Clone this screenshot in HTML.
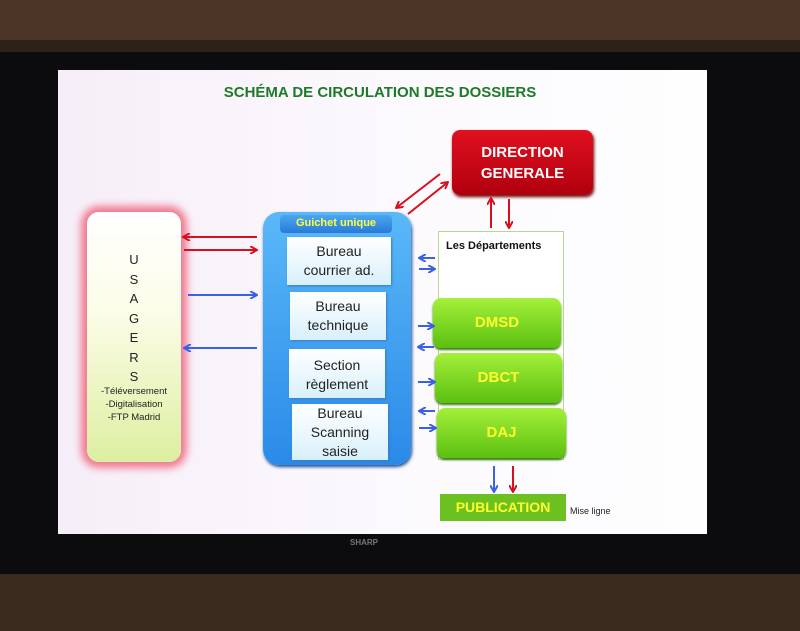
<!DOCTYPE html>
<html><head><meta charset="utf-8"><style>
body{margin:0;width:800px;height:631px;overflow:hidden;background:#2e2118;font-family:"Liberation Sans",sans-serif;position:relative}
div{position:absolute;box-sizing:border-box}
.wb{background:linear-gradient(#fff,#d8f0fb);text-align:center;color:#222;font-size:14px;line-height:19px;padding-top:5px;box-shadow:1px 1px 2px #3a7bc0}
.g{background:linear-gradient(#a4f03a,#5cc010);border-radius:8px;color:#ffff30;font-weight:bold;font-size:15px;text-align:center;box-shadow:0 2px 2px #3a7a10}
</style></head><body>
<div style="left:0;top:0;width:800px;height:40px;background:#4a3526"></div>
<div style="left:0;top:52px;width:800px;height:522px;background:#0c0c0e"></div>
<div style="left:0;top:574px;width:800px;height:57px;background:#3a2a1e"></div>
<div style="left:58px;top:70px;width:649px;height:464px;background:linear-gradient(90deg,#f6eef8,#fbf9fd 50%,#fefefe)"></div>
<div style="left:350px;top:538px;width:60px;font-size:8px;color:#777;font-weight:bold">SHARP</div>
<div style="left:200px;top:84px;width:360px;text-align:center;color:#1e7a28;font-weight:bold;font-size:15px">SCHÉMA DE CIRCULATION DES DOSSIERS</div>
<div style="left:452px;top:130px;width:141px;height:65px;background:linear-gradient(#e01020,#b0000e);border-radius:8px;color:#fff;font-weight:bold;font-size:15px;text-align:center;line-height:21px;padding-top:12px;box-shadow:1px 2px 3px #600">DIRECTION<br>GENERALE</div>
<div style="left:87px;top:212px;width:94px;height:250px;background:linear-gradient(#fff,#fcfce8 40%,#dcefa0);border-radius:12px;box-shadow:0 0 8px 6px #f07a90;text-align:center;color:#222;font-size:13px;line-height:19.5px;padding-top:38px">U<br>S<br>A<br>G<br>E<br>R<br>S<div style="position:static;font-size:9.5px;line-height:13px;margin-top:-2px">-Téléversement<br>-Digitalisation<br>-FTP Madrid</div></div>
<div style="left:263px;top:212px;width:148px;height:253px;background:linear-gradient(#5ab8f8,#2a8ae8);border-radius:16px;box-shadow:1px 2px 3px #1a4a90"></div>
<div style="left:280px;top:215px;width:112px;height:18px;background:linear-gradient(#4aa6f0,#2a7ad8);border-radius:4px;color:#ffff40;font-weight:bold;font-size:11px;text-align:center;line-height:17px">Guichet unique</div>
<div class="wb" style="left:287px;top:237px;width:104px;height:48px">Bureau<br>courrier ad.</div>
<div class="wb" style="left:290px;top:292px;width:96px;height:48px">Bureau<br>technique</div>
<div class="wb" style="left:289px;top:349px;width:96px;height:49px;padding-top:7px">Section<br>règlement</div>
<div class="wb" style="left:292px;top:404px;width:96px;height:56px;padding-top:0;line-height:19px">Bureau<br>Scanning<br>saisie</div>
<div style="left:438px;top:231px;width:126px;height:229px;border:1px solid #b8d890;background:#fff"></div>
<div style="left:446px;top:240px;font-size:11px;font-weight:bold;color:#111">Les Départements</div>
<div class="g" style="left:433px;top:298px;width:128px;height:50px;line-height:50px">DMSD</div>
<div class="g" style="left:435px;top:353px;width:127px;height:50px;line-height:50px">DBCT</div>
<div class="g" style="left:437px;top:408px;width:129px;height:50px;line-height:50px">DAJ</div>
<div style="left:440px;top:494px;width:126px;height:27px;background:#6cc020;color:#ffff30;font-weight:bold;font-size:14px;line-height:27px;text-align:center">PUBLICATION</div>
<div style="left:570px;top:506px;font-size:9px;color:#222">Mise ligne</div>
<svg width="800" height="631" style="position:absolute;left:0;top:0">
<defs>
<marker id="r" markerWidth="8" markerHeight="8" refX="7" refY="4" orient="auto" markerUnits="userSpaceOnUse"><path d="M0,0L7,4L0,8" fill="none" stroke="#d8101e" stroke-width="2"/></marker>
<marker id="b" markerWidth="8" markerHeight="8" refX="7" refY="4" orient="auto" markerUnits="userSpaceOnUse"><path d="M0,0L7,4L0,8" fill="none" stroke="#3a60e8" stroke-width="2"/></marker>
</defs>
<g stroke="#d8101e" stroke-width="2" marker-end="url(#r)">
<line x1="257" y1="237" x2="183" y2="237"/>
<line x1="184" y1="250" x2="257" y2="250"/>
<line x1="440" y1="174" x2="396" y2="208"/>
<line x1="408" y1="214" x2="448" y2="182"/>
<line x1="491" y1="228" x2="491" y2="198"/>
<line x1="509" y1="199" x2="509" y2="228"/>
<line x1="513" y1="466" x2="513" y2="492"/>
</g>
<g stroke="#3a60e8" stroke-width="2" marker-end="url(#b)">
<line x1="188" y1="295" x2="257" y2="295"/>
<line x1="257" y1="348" x2="184" y2="348"/>
<line x1="494" y1="466" x2="494" y2="492"/>
<line x1="435" y1="258" x2="419" y2="258"/>
<line x1="419" y1="269" x2="435" y2="269"/>
<line x1="418" y1="326" x2="434" y2="326"/>
<line x1="434" y1="347" x2="418" y2="347"/>
<line x1="418" y1="382" x2="435" y2="382"/>
<line x1="435" y1="411" x2="419" y2="411"/>
<line x1="419" y1="428" x2="436" y2="428"/>
</g>
</svg>
</body></html>
